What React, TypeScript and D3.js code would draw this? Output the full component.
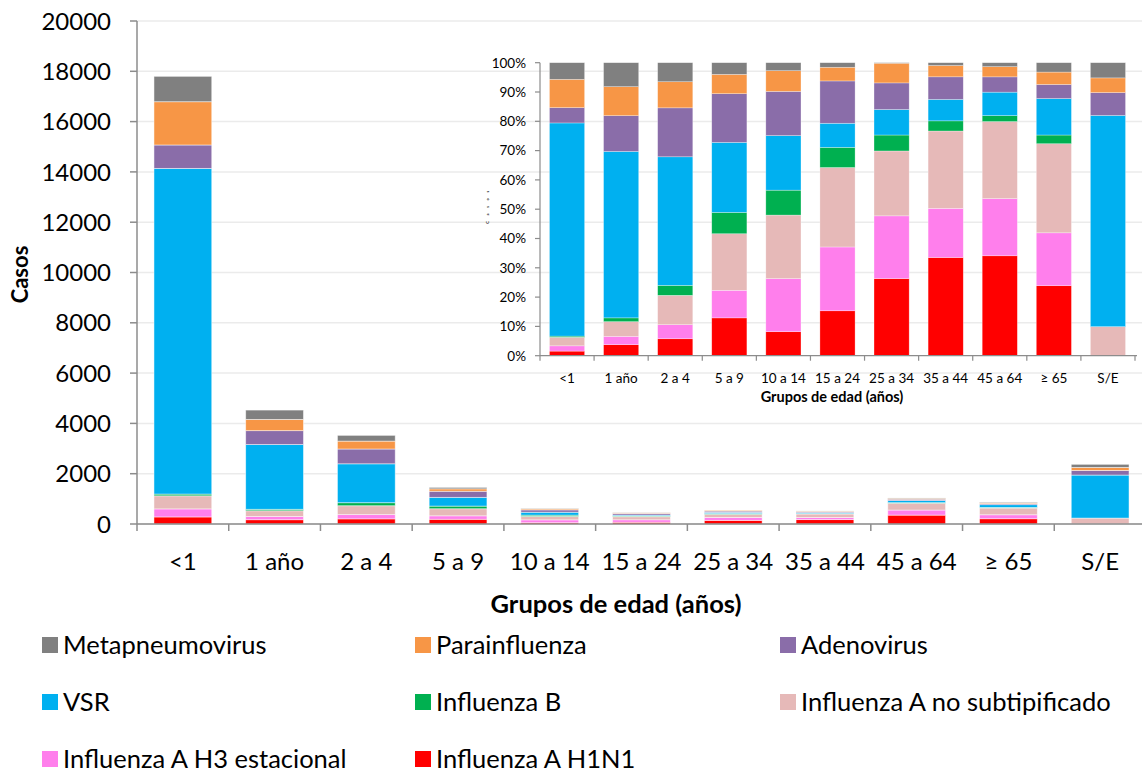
import React from "react";
import * as d3 from "d3";

const categories = ["<1", "1 año", "2 a 4", "5 a 9", "10 a 14", "15 a 24", "25 a 34", "35 a 44", "45 a 64", "≥ 65", "S/E"];

const seriesNames = [
  "Influenza A H1N1",
  "Influenza A H3 estacional",
  "Influenza A no subtipificado",
  "Influenza B",
  "VSR",
  "Adenovirus",
  "Parainfluenza",
  "Metapneumovirus",
];
const seriesColors = ["#FF0000", "#FF7FEC", "#E6B9B8", "#00B050", "#00B0F0", "#8A6DA9", "#F79646", "#808080"];

const h1n1 = [280, 170, 204, 188, 51, 69, 145, 174, 353, 209, 0];
const h3 = [320, 129, 169, 137, 113, 98, 118, 87, 202, 158, 0];
const aNoSub = [520, 227, 353, 281, 135, 122, 122, 137, 272, 266, 235];
const influB = [70, 59, 120, 106, 53, 31, 30, 18, 21, 26, 0];
const vsr = [12950, 2573, 1547, 348, 116, 37, 48, 38, 83, 109, 1711];
const adeno = [930, 553, 589, 242, 94, 65, 50, 40, 54, 42, 185];
const paraflu = [1720, 448, 314, 96, 44, 21, 37, 20, 36, 37, 119];
const metap = [1010, 371, 229, 58, 17, 7, 1, 5, 14, 28, 123];

const mainTicks = [0, 2000, 4000, 6000, 8000, 10000, 12000, 14000, 16000, 18000, 20000];
const insetTicks = [0, 0.1, 0.2, 0.3, 0.4, 0.5, 0.6, 0.7, 0.8, 0.9, 1];

const legendOrder = [
  "Metapneumovirus",
  "Parainfluenza",
  "Adenovirus",
  "VSR",
  "Influenza B",
  "Influenza A no subtipificado",
  "Influenza A H3 estacional",
  "Influenza A H1N1",
];

const seriesValues = [h1n1, h3, aNoSub, influB, vsr, adeno, paraflu, metap];

const FONT = "Lato, 'Open Sans', sans-serif";
const AXIS = "#8C8C8C";

export default function App() {
  const W = 1142;
  const H = 772;

  const rows = categories.map((c, i) => {
    const r: any = { cat: c };
    seriesNames.forEach((s, k) => (r[s] = seriesValues[k][i]));
    return r;
  });

  const stackAbs = d3.stack<any>().keys(seriesNames)(rows);
  const stackPct = d3.stack<any>().keys(seriesNames).offset(d3.stackOffsetExpand)(rows);

  // main chart scales
  const x = d3.scaleBand<string>().domain(categories).range([137, 1146]).paddingInner(0.37).paddingOuter(0.185);
  const y = d3.scaleLinear().domain([0, 20000]).range([524, 21]);

  // inset scales
  const xi = d3.scaleBand<string>().domain(categories).range([540, 1135]).paddingInner(0.35).paddingOuter(0.175);
  const yi = d3.scaleLinear().domain([0, 1]).range([355.7, 62.7]);

  const mainBoundaries = d3.range(categories.length + 1).map((i) => 137 + i * x.step());
  const insetBoundaries = d3.range(categories.length + 1).map((i) => 540 + i * xi.step());

  const colorOf = (name: string) => seriesColors[seriesNames.indexOf(name)];

  const legendCols = [42, 415, 780];
  const legendRows = [645, 702, 759];

  return (
    <svg width={W} height={H} style={{ position: "absolute", left: 0, top: 0, background: "#fff" }} fontFamily={FONT}>
      {/* main gridlines */}
      {mainTicks.map((t) => (
        <line key={"g" + t} x1={137} x2={W} y1={y(t)} y2={y(t)} stroke="#EBEBEB" strokeWidth={1.5} />
      ))}

      {/* main bars */}
      {stackAbs.map((layer, k) => (
        <g key={"m" + k} fill={seriesColors[k]}>
          {layer.map((d, i) =>
            d[1] - d[0] > 0 ? (
              <rect
                key={i}
                x={x(categories[i])}
                width={x.bandwidth()}
                y={y(d[1])}
                height={y(d[0]) - y(d[1])}
                stroke="#ffffff"
                strokeOpacity={0.6}
                strokeWidth={0.8}
              />
            ) : null
          )}
        </g>
      ))}

      {/* main y axis */}
      <line x1={137} x2={137} y1={21} y2={524} stroke={AXIS} strokeWidth={1.5} />
      {mainTicks.map((t) => (
        <g key={"yt" + t}>
          <line x1={130} x2={137} y1={y(t)} y2={y(t)} stroke={AXIS} strokeWidth={1.5} />
          <text x={111} y={y(t)} dy="0.36em" textAnchor="end" fontSize={24} fill="#000">
            {t}
          </text>
        </g>
      ))}
      <text transform={`translate(28,${y(10000) + 2}) rotate(-90)`} textAnchor="middle" fontSize={22} fontWeight="bold">
        Casos
      </text>

      {/* main x axis */}
      <line x1={137} x2={W} y1={524} y2={524} stroke={AXIS} strokeWidth={1.5} />
      {mainBoundaries.map((bx, i) => (
        <line key={"xt" + i} x1={bx} x2={bx} y1={524} y2={531} stroke={AXIS} strokeWidth={1.5} />
      ))}
      {categories.map((c) => (
        <text key={"xl" + c} x={(x(c) as number) + x.bandwidth() / 2} y={570} textAnchor="middle" fontSize={24}>
          {c}
        </text>
      ))}
      <text x={616} y={613} textAnchor="middle" fontSize={25.5} fontWeight="bold">
        Grupos de edad (años)
      </text>

      {/* inset bars */}
      {stackPct.map((layer, k) => (
        <g key={"i" + k} fill={seriesColors[k]}>
          {layer.map((d, i) =>
            d[1] - d[0] > 0 ? (
              <rect
                key={i}
                x={xi(categories[i])}
                width={xi.bandwidth()}
                y={yi(d[1])}
                height={yi(d[0]) - yi(d[1])}
                stroke="#ffffff"
                strokeOpacity={0.5}
                strokeWidth={0.6}
              />
            ) : null
          )}
        </g>
      ))}

      {/* inset axes */}
      <line x1={540} x2={540} y1={yi(1)} y2={yi(0)} stroke={AXIS} strokeWidth={1.2} />
      {insetTicks.map((t) => (
        <g key={"it" + t}>
          <line x1={535} x2={540} y1={yi(t)} y2={yi(t)} stroke={AXIS} strokeWidth={1.2} />
          <text x={526} y={yi(t)} dy="0.36em" textAnchor="end" fontSize={13.5}>
            {d3.format(".0%")(t)}
          </text>
        </g>
      ))}
      <line x1={540} x2={1137} y1={yi(0)} y2={yi(0)} stroke={AXIS} strokeWidth={1.2} />
      {insetBoundaries.map((bx, i) => (
        <line key={"ixt" + i} x1={bx} x2={bx} y1={yi(0)} y2={yi(0) + 5} stroke={AXIS} strokeWidth={1.2} />
      ))}
      {categories.map((c) => (
        <text key={"ixl" + c} x={(xi(c) as number) + xi.bandwidth() / 2} y={383} textAnchor="middle" fontSize={13.5}>
          {c}
        </text>
      ))}
      <text x={832} y={402} textAnchor="middle" fontSize={14.5} fontWeight="bold">
        Grupos de edad (años)
      </text>
      <text
        transform={`translate(489,${yi(0.5) - 2}) rotate(-90)`}
        textAnchor="middle"
        fontSize={4}
        fontWeight="bold"
        textLength={33}
        lengthAdjust="spacing"
      >
        Casos
      </text>

      {/* legend */}
      {legendOrder.map((name, i) => {
        const cx = legendCols[i % 3];
        const cy = legendRows[Math.floor(i / 3)];
        return (
          <g key={"lg" + name}>
            <rect x={cx} y={cy - 8} width={16} height={16} fill={colorOf(name)} />
            <text x={cx + 21} y={cy} dy="0.36em" fontSize={25.5}>
              {name}
            </text>
          </g>
        );
      })}
    </svg>
  );
}
